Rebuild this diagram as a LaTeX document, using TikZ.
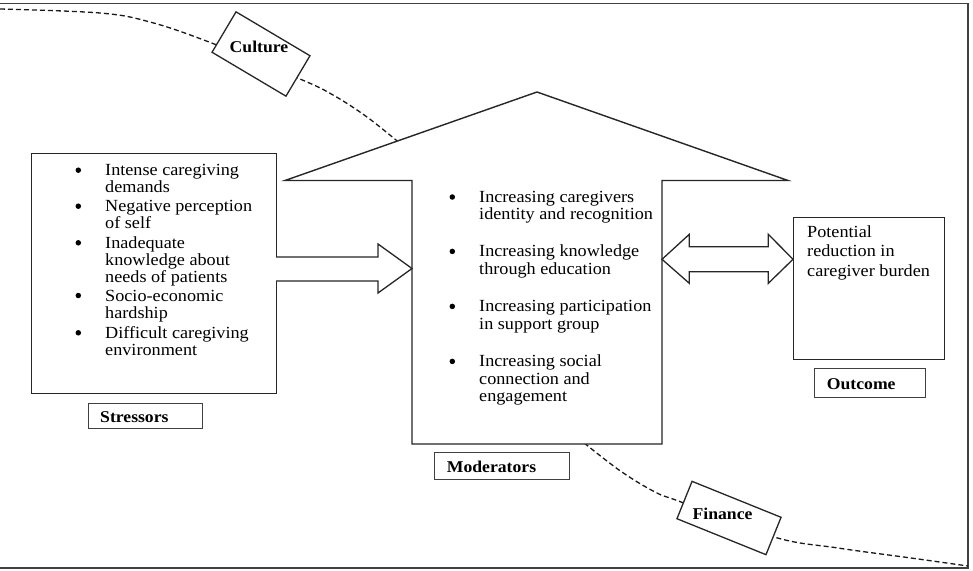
\documentclass[tikz,border=0pt]{standalone}
\usepackage{fontspec}
\setmainfont[FakeStretch=1.07]{Liberation Serif}
\tikzset{
  frame/.style={line width=1.6pt, draw=black!75},
  curve/.style={dashed, dash pattern=on 5pt off 3pt, line width=1.3pt, draw=black!90},
  bigbox/.style={draw, line width=1.4pt, draw=black!85, fill=white, inner sep=0pt, anchor=north west},
  lblbox/.style={draw, line width=1.1pt, draw=black!75, inner sep=0pt, anchor=north west},
  tiltbox/.style={draw, line width=1.3pt, draw=black!85, fill=white, inner sep=0pt},
  housest/.style={draw, line width=1.4pt, draw=black!85, fill=white, line join=miter},
  arrst/.style={draw, line width=1.3pt, draw=black!85, fill=white, line join=miter},
  itm/.style={anchor=base west, inner sep=0pt, align=left, font=\fontsize{17}{17}\selectfont},
  mitm/.style={anchor=base west, inner sep=0pt, align=left, font=\fontsize{17}{17.5}\selectfont},
  bul/.style={circle, fill=black, inner sep=0pt, minimum size=5.5pt},
  lbl/.style={inner sep=0pt, font=\fontsize{16.5}{17}\selectfont\bfseries}
}
\begin{document}
\begin{tikzpicture}[x=1pt,y=-1pt]
\useasboundingbox (0,0) rectangle (973,570);
\fill[white] (0,0) rectangle (973,570);
% frame
\draw[frame] (0,3.5) -- (968,3.5) -- (968,568) -- (0,568);
% dashed curve (passes behind the house)
\draw[curve] plot[smooth, tension=0.6] coordinates {(0,9) (100,13) (150,22) (209,42) (300,79) (333,95) (367,117) (402,145)};
\draw[curve] plot[smooth, tension=0.6] coordinates {(578,438) (619,470) (655,492) (681,502) (774,537) (838,548) (911,558) (968,566)};
% stressors box
\node[bigbox, minimum width=245pt, minimum height=240pt] (stress) at (31,153) {};
\node[lblbox, minimum width=114pt, minimum height=25pt] (stresslbl) at (88,403) {};
\node[lbl, anchor=base west] (stresstxt) at (100,422.7) {Stressors};
% house (moderators)
\coordinate (hbl) at (412,444);
\coordinate (hsl) at (412,180.5);
\coordinate (hrl) at (285,180.5);
\coordinate (hapex) at (537,92);
\coordinate (hrr) at (788,180.5);
\coordinate (hsr) at (662,180.5);
\coordinate (hbr) at (662,444);
\draw[housest] (hbl) -- (hsl) -- (hrl) -- (hapex) -- (hrr) -- (hsr) -- (hbr) -- cycle;
\node[lblbox, minimum width=135pt, minimum height=27pt] (modlbl) at (433.6,452) {};
\node[lbl, anchor=base west] (modtxt) at (446.7,472.3) {Moderators};
% outcome
\node[bigbox, minimum width=151pt, minimum height=142pt] (outc) at (793,217) {};
\node[lblbox, minimum width=111pt, minimum height=29pt] (outlbl) at (814,368) {};
\node[lbl, anchor=base west] (outtxt) at (826.7,389.3) {Outcome};
% multi-line nodes: base anchor = last line baseline
\node[anchor=base west, inner sep=0pt, align=left, font=\fontsize{17}{19.4}\selectfont] (outbody) at (807,276.1) {Potential\\reduction in\\caregiver burden};
% stressor items
\node[bul] (sb1) at (78.3,170.2) {};
\node[itm] (s1) at (105,192.7) {Intense caregiving\\demands};
\node[bul] (sb2) at (78.3,206.2) {};
\node[itm] (s2) at (105,228.7) {Negative perception\\of self};
\node[bul] (sb3) at (78.3,242.8) {};
\node[itm] (s3) at (105,282.3) {Inadequate\\knowledge about\\needs of patients};
\node[bul] (sb4) at (78.3,295.5) {};
\node[itm] (s4) at (105,318) {Socio-economic\\hardship};
\node[bul] (sb5) at (78.3,332.8) {};
\node[itm] (s5) at (105,355.3) {Difficult caregiving\\environment};
% moderator items
\node[bul] (mb1) at (452.3,197) {};
\node[mitm] (m1) at (479,219.8) {Increasing caregivers\\identity and recognition};
\node[bul] (mb2) at (452.3,251.4) {};
\node[mitm] (m2) at (479,274.2) {Increasing knowledge\\through education};
\node[bul] (mb3) at (452.3,306.4) {};
\node[mitm] (m3) at (479,329.2) {Increasing participation\\in support group};
\node[bul] (mb4) at (452.3,361.4) {};
\node[mitm] (m4) at (479,401.7) {Increasing social\\connection and\\engagement};
% arrow stressors -> moderators
\coordinate (a1t) at (276,257);
\coordinate (a1b) at (276,281);
\coordinate (a1tip) at (412,268.5);
\draw[arrst] (a1t) -- (378,257) -- (378,244) -- (a1tip) -- (378,293) -- (378,281) -- (a1b);
% double arrow moderators <-> outcome
\coordinate (a2l) at (662,259.3);
\coordinate (a2r) at (793,259.3);
\draw[arrst] (a2l) -- (689.3,234.3) -- (689.3,246.7) -- (768.3,246.7) -- (768.3,234.3) -- (a2r)
  -- (768.3,283.3) -- (768.3,271.7) -- (689.3,271.7) -- (689.3,283.3) -- cycle;
% tilted boxes on the curve
\node[tiltbox, minimum width=86pt, minimum height=47pt, rotate=-30.7] (cult) at (261,54) {};
\node[lbl, anchor=base] (culttxt) at (259,52.7) {Culture};
\node[tiltbox, minimum width=96pt, minimum height=40.3pt, rotate=-22] (fin) at (729,518) {};
\node[lbl, anchor=base] (fintxt) at (722.5,519.3) {Finance};
\end{tikzpicture}
\end{document}
